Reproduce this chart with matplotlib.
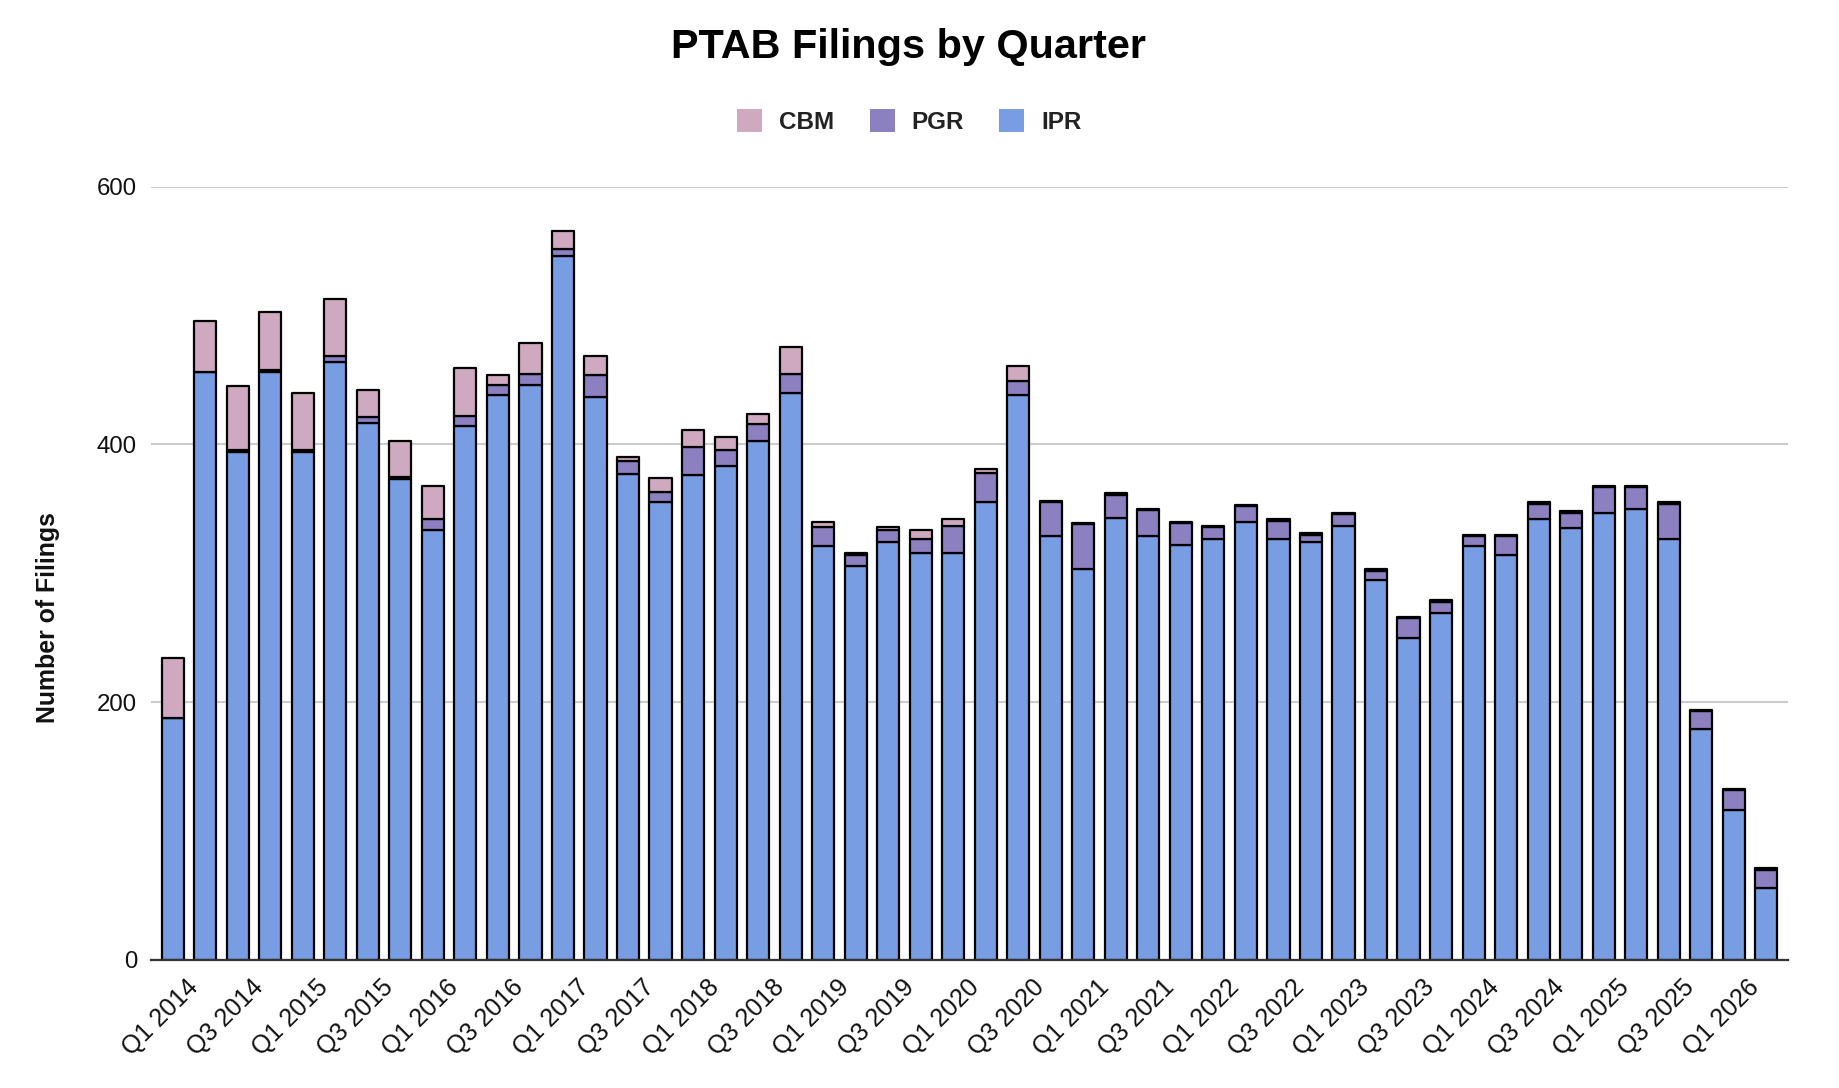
import numpy as np
import matplotlib
matplotlib.use("Agg")
import matplotlib.pyplot as plt
from matplotlib.transforms import ScaledTranslation

plt.rcParams['font.family'] = ['Liberation Sans', 'DejaVu Sans']

quarters = []
for yr in range(2014, 2027):
    for q in range(1, 5):
        quarters.append('Q%d %d' % (q, yr))
quarters = quarters[:50]   # Q1 2014 .. Q2 2026

ipr = [188, 456, 394, 456, 394, 464, 417, 373, 334, 414, 438, 446,
       546, 437, 377, 355, 376, 383, 403, 440, 321, 306, 324, 316,
       316, 355, 438, 329, 303, 343, 329, 322, 327, 340, 327, 324,
       337, 295, 250, 269, 321, 314, 342, 335, 347, 350, 327, 179,
       116, 56]
pgr = [0, 0, 2, 2, 2, 5, 4, 2, 8, 8, 8, 9,
       6, 17, 10, 8, 22, 13, 13, 15, 15, 8, 10, 11,
       21, 23, 11, 26, 35, 18, 20, 17, 9, 12, 14, 6,
       9, 7, 15, 9, 8, 15, 12, 12, 20, 17, 27, 14,
       16, 14]
cbm = [46, 40, 49, 45, 44, 44, 21, 28, 26, 37, 8, 24,
       14, 15, 3, 11, 13, 10, 8, 21, 4, 2, 2, 7,
       5, 3, 12, 1, 1, 1, 1, 1, 1, 1, 1, 1,
       1, 1, 1, 1, 1, 1, 1, 1, 1, 1, 1, 1,
       1, 1]

c_cbm = '#cfa9bf'
c_pgr = '#8c80c0'
c_ipr = '#789de3'

W, H = 1840, 1088
fig = plt.figure(figsize=(W / 100, H / 100), dpi=100)
ax = fig.add_axes([151 / W, 1 - 960 / H, (1788 - 151) / W, (960 - 186.7) / H])

x = np.arange(len(quarters))
ipr = np.array(ipr)
pgr = np.array(pgr)
cbm = np.array(cbm)
bw = 0.68
kw = dict(width=bw, edgecolor='black', linewidth=1.6, zorder=3)
b1 = ax.bar(x, ipr, color=c_ipr, label='IPR', **kw)
b2 = ax.bar(x, pgr, bottom=ipr, color=c_pgr, label='PGR', **kw)
b3 = ax.bar(x, cbm, bottom=ipr + pgr, color=c_cbm, label='CBM', **kw)
for bars in (b1, b2, b3):
    for p in bars:
        p.set_joinstyle('round')

ax.set_xlim(-0.667, 49.667)
ax.set_ylim(0, 600)
ax.set_yticks([0, 200, 400, 600])
ax.yaxis.grid(True, color='#cccccc', linewidth=1.5, zorder=0)
ax.set_axisbelow(True)
for s in ['top', 'right', 'left']:
    ax.spines[s].set_visible(False)
ax.spines['bottom'].set_color('#333333')
ax.spines['bottom'].set_linewidth(1.6)
ax.spines['bottom'].set_zorder(4)
ax.tick_params(axis='y', length=0, pad=10, labelsize=17.3, labelcolor='#111111')
ax.tick_params(axis='x', length=0, pad=17, labelsize=18, labelcolor='#111111')

ax.set_xticks(x[::2])
ax.set_xticklabels(quarters[::2], rotation=45, ha='right', va='center',
                   rotation_mode='anchor')
off = ScaledTranslation(0.22, 0, fig.dpi_scale_trans)
for lbl in ax.get_xticklabels():
    lbl.set_transform(lbl.get_transform() + off)

fig.text(909 / W, 1 - 58 / H, 'PTAB Filings by Quarter', ha='center',
         va='baseline', fontsize=29.8, fontweight='bold', color='black')
fig.text(48 / W, 1 - 617.5 / H, 'Number of Filings', rotation=90,
         ha='center', va='center', fontsize=17.9, fontweight='bold',
         color='#111111')

handles = [b3, b2, b1]
leg = fig.legend(handles, ['CBM', 'PGR', 'IPR'], loc='center',
                 bbox_to_anchor=(909.5 / W, 1 - 121.5 / H), ncol=3, frameon=False,
                 prop={'weight': 'bold', 'size': 17.5},
                 handlelength=1.03, handleheight=1.03, handletextpad=0.7,
                 columnspacing=1.45, labelcolor='#222222')
for h in leg.legend_handles:
    h.set_edgecolor('none')

fig.savefig('out.png', dpi=100)
